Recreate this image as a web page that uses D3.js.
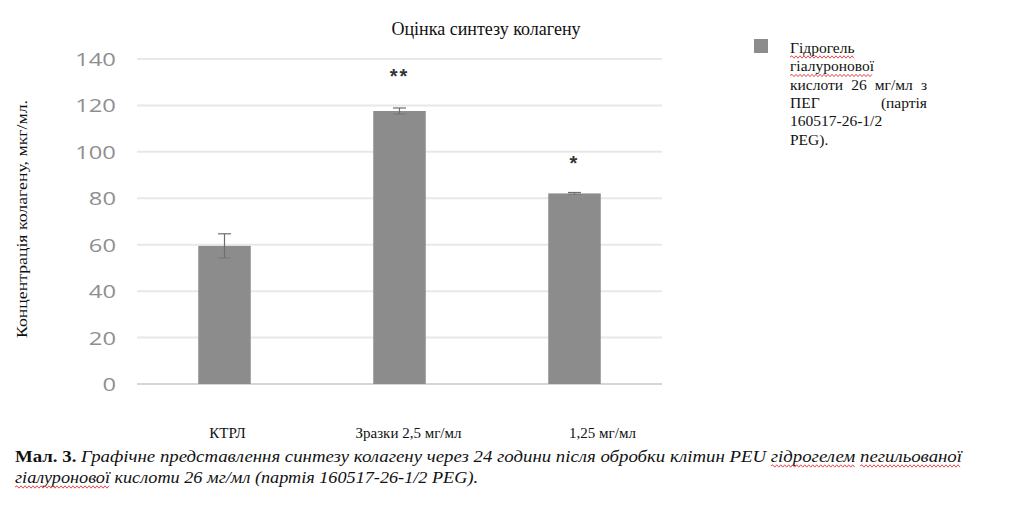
<!DOCTYPE html>
<html>
<head>
<meta charset="utf-8">
<script src="https://cdn.jsdelivr.net/npm/d3@7"></script>
<style>
  body { margin: 0; background: #fff; }
  svg { display: block; }
  .serif { font-family: "Liberation Serif", "Times New Roman", Tinos, serif; }
</style>
</head>
<body>
<svg id="chart" width="1024" height="505"></svg>
<script>
// data
var categories = ["КТРЛ", "Зразки 2,5 мг/мл", "1,25 мг/мл"];
var values = [59.5, 117.6, 82.1];
var errors = [5.2, 1.3, 0.4];
var marks = ["", "**", "*"];
var yTicks = [0, 20, 40, 60, 80, 100, 120, 140];
var legendLines = ["Гідрогель", "гіалуронової", "кислоти 26 мг/мл з", "ПЕГ (партія", "160517-26-1/2", "PEG)."];
var justified = [false, false, true, true, false, false];
var title = "Оцінка синтезу колагену";
var yLabel = "Концентрація колагену, мкг/мл.";

// category label shifts (the labels are not centred on the bars in the original)
var labelShift = [3, 9, 28];

var svg = d3.select("#chart");

var x = d3.scaleBand().domain(categories).range([137, 662]).paddingInner(0.7).paddingOuter(0.35);
var y = d3.scaleLinear().domain([0, 140]).range([384, 59]);

// grid
svg.append("g").selectAll("line").data(yTicks).join("line")
	.attr("x1", 137).attr("x2", 662)
	.attr("y1", function(d){ return y(d); }).attr("y2", function(d){ return y(d); })
	.attr("stroke", function(d){ return d == 0 ? "#d6d6d6" : "#e8e8e8"; })
	.attr("stroke-width", 2);

// tick labels
svg.append("g").selectAll("text").data(yTicks).join("text")
	.attr("x", 116).attr("y", function(d){ return y(d) + 7; })
	.attr("text-anchor", "end")
	.attr("font-family", "'Open Sans', 'Liberation Sans', sans-serif")
	.attr("font-size", 18)
	.attr("fill", "#8f8f8f")
	.attr("textLength", function(d){ return String(d).length * 13.6; })
	.attr("lengthAdjust", "spacingAndGlyphs")
	.text(function(d){ return d; });

// bars
svg.append("g").selectAll("rect").data(values).join("rect")
	.attr("x", function(d, i){ return x(categories[i]); })
	.attr("y", function(d){ return y(d); })
	.attr("width", x.bandwidth())
	.attr("height", function(d){ return y(0) - y(d); })
	.attr("fill", "#8c8c8c");

// error bars
var eb = svg.append("g").attr("stroke", "#6e6e6e").attr("stroke-width", 1.2);
values.forEach(function(v, i){
	var cx = x(categories[i]) + x.bandwidth() / 2;
	eb.append("line").attr("x1", cx).attr("x2", cx).attr("y1", y(v + errors[i])).attr("y2", y(v - errors[i]));
	eb.append("line").attr("x1", cx - 6.5).attr("x2", cx + 6.5).attr("y1", y(v + errors[i])).attr("y2", y(v + errors[i]));
	eb.append("line").attr("x1", cx - 6.5).attr("x2", cx + 6.5).attr("y1", y(v - errors[i])).attr("y2", y(v - errors[i])).attr("stroke-opacity", 0.5);
});

// significance marks
svg.append("g").selectAll("text").data(marks).join("text")
	.attr("x", function(d, i){ return x(categories[i]) + x.bandwidth() / 2; })
	.attr("y", function(d, i){ return i == 1 ? 83 : 170; })
	.attr("text-anchor", "middle")
	.attr("font-family", "'Liberation Sans', sans-serif")
	.attr("font-weight", "bold")
	.attr("font-size", 20)
	.attr("letter-spacing", 2)
	.attr("fill", "#333")
	.text(function(d){ return d; });

// category labels
svg.append("g").selectAll("text").data(categories).join("text")
	.attr("class", "serif")
	.attr("x", function(d, i){ return x(d) + x.bandwidth() / 2 + labelShift[i]; })
	.attr("y", 438)
	.attr("text-anchor", "middle")
	.attr("font-size", 15)
	.attr("fill", "#111")
	.text(function(d){ return d; });

// title
svg.append("text").attr("class", "serif").attr("x", 486).attr("y", 35).attr("text-anchor", "middle")
	.attr("font-size", 18).attr("fill", "#111")
	.text(title);

// y label
svg.append("text").attr("class", "serif").attr("transform", "translate(27,219) rotate(-90)")
	.attr("text-anchor", "middle")
	.attr("font-size", 15).attr("fill", "#111")
	.attr("textLength", 238).attr("lengthAdjust", "spacingAndGlyphs")
	.text(yLabel);

// legend
svg.append("rect").attr("x", 754).attr("y", 39).attr("width", 14).attr("height", 14).attr("fill", "#8c8c8c");
var leg = svg.append("g").attr("class", "serif").attr("font-size", 15.5).attr("fill", "#111");
var legTexts = [];
legendLines.forEach(function(t, i){
	var ly = 53 + i * 18.3;
	if(!justified[i]){
		legTexts.push(leg.append("text").attr("x", 790).attr("y", ly).text(t));
		return;
	}
	// justified line: spread the words across the column
	var words = t.split(" ");
	var ws = words.map(function(w){
		return leg.append("text").attr("y", ly).text(w);
	});
	var widths = ws.map(function(s){ return s.node().getComputedTextLength(); });
	var gap = (137 - d3.sum(widths)) / (words.length - 1);
	var cx = 790;
	ws.forEach(function(s, k){ s.attr("x", cx); cx += widths[k] + gap; });
	legTexts.push(ws[0]);
});

// caption
var cap1 = svg.append("text").attr("class", "serif").attr("x", 15).attr("y", 462)
	.attr("font-size", 16).attr("fill", "#111")
	.attr("textLength", 947).attr("lengthAdjust", "spacingAndGlyphs");
cap1.append("tspan").attr("font-weight", "bold").text("Мал. 3.");
cap1.append("tspan").attr("font-style", "italic").text(" Графічне представлення синтезу колагену через 24 години після обробки клітин PEU гідрогелем пегильованої");
var cap2 = svg.append("text").attr("class", "serif").attr("x", 15).attr("y", 483)
	.attr("font-size", 16).attr("fill", "#111").attr("font-style", "italic")
	.attr("textLength", 463).attr("lengthAdjust", "spacingAndGlyphs")
	.text("гіалуронової кислоти 26 мг/мл (партія 160517-26-1/2 PEG).");

// red wavy spell-check underlines
function wavy(textSel, word, yy){
	var node = textSel.node();
	var full = node.textContent;
	var idx = full.indexOf(word);
	if(idx < 0) return;
	var x0 = node.getStartPositionOfChar(idx).x;
	var x1 = node.getEndPositionOfChar(idx + word.length - 1).x;
	var d = "M" + x0 + "," + yy;
	var up = true;
	for(var p = x0 + 2; p <= x1; p += 2){
		d += " L" + p + "," + (yy + (up ? -1.2 : 1.2));
		up = !up;
	}
	svg.append("path").attr("d", d).attr("fill", "none").attr("stroke", "#e0393e").attr("stroke-width", 0.9);
}
wavy(legTexts[0], "Гідрогель", 57);
wavy(legTexts[1], "гіалуронової", 75.5);
wavy(cap1, "гідрогелем", 466);
wavy(cap1, "пегильованої", 466);
wavy(cap2, "гіалуронової", 487);
</script>
</body>
</html>
